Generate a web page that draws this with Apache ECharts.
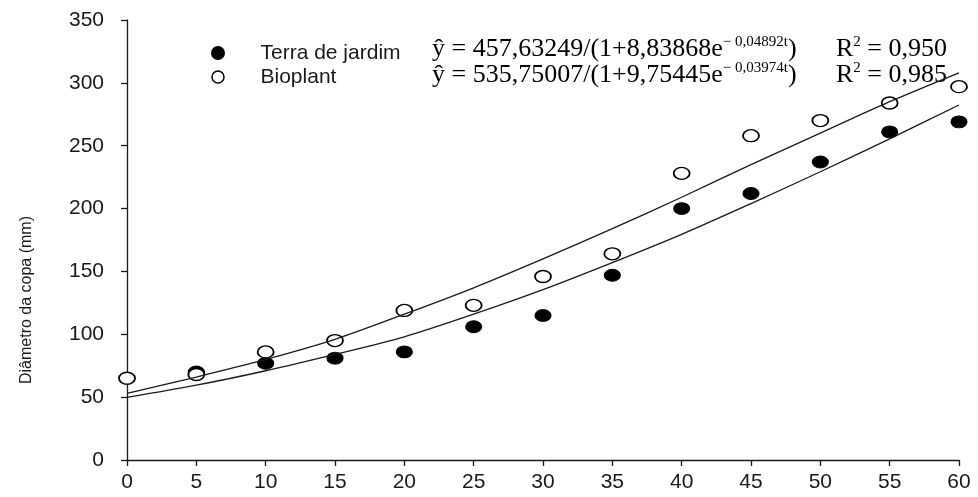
<!DOCTYPE html>
<html>
<head>
<meta charset="utf-8">
<script src="https://cdn.jsdelivr.net/npm/echarts@6/dist/echarts.min.js"></script>
<style>
  html, body { margin: 0; padding: 0; background: #fff; }
  #chart { width: 978px; height: 497px; }
</style>
</head>
<body>
<div id="chart"></div>
<script>
// ---- data ----
const tBioplant = [0, 5, 10, 15, 20, 25, 30, 35, 40, 45, 50, 55, 60];
const bioplant  = [65, 68, 86, 95, 119, 123, 146, 164, 228, 258, 270, 284, 297];

const tTerra = [5, 10, 15, 20, 25, 30, 35, 40, 45, 50, 55, 60];
const terra  = [70, 77, 81, 86, 106, 115, 147, 200, 212, 237, 261, 269];

// fitted curves as drawn in the picture
const tCurve     = [0, 5, 10, 15, 20, 25, 30, 35, 40, 45, 50, 55, 60];
const curveUpper = [53, 66, 80, 96, 116, 137, 160, 184, 209, 235, 260, 285, 308];
const curveLower = [49.8, 59.5, 71, 84, 98, 116, 135.5, 157, 179.5, 204, 229.3, 255.5, 282.4];

const yTitle = 'Diâmetro da copa (mm)';
const seriesNames = ['Terra de jardim', 'Bioplant'];
const eqTerra = ['ŷ = 457,63249/(1+8,83868e', '− 0,04892t', ')'];
const eqBio   = ['ŷ = 535,75007/(1+9,75445e', '− 0,03974t', ')'];
const r2Terra = '0,950';
const r2Bio   = '0,985';

const pair = (xs, ys) => xs.map((x, i) => [x, ys[i]]);

const chart = echarts.init(document.getElementById('chart'));
const ink = '#1a1a1a';
const sans = 'Liberation Sans, Arial, sans-serif';
const serif = 'Liberation Serif, Times New Roman, serif';

const eqRich = {
  m: { fontFamily: serif, fontSize: 26, color: '#000', lineHeight: 28, verticalAlign: 'middle' },
  s: { fontFamily: serif, fontSize: 15, color: '#000', lineHeight: 28, verticalAlign: 'top' }
};

chart.setOption({
  animation: false,
  backgroundColor: '#fff',
  grid: { left: 127, right: 19, top: 20, bottom: 37, containLabel: false },
  xAxis: {
    type: 'value', min: 0, max: 60, interval: 5,
    axisLine: { show: true, lineStyle: { color: ink, width: 1.3 } },
    axisTick: { show: true, inside: false, length: 6, lineStyle: { color: ink, width: 1.3 } },
    axisLabel: { margin: 12, fontFamily: sans, fontSize: 21, color: ink },
    splitLine: { show: false }
  },
  yAxis: {
    type: 'value', min: 0, max: 350, interval: 50,
    axisLine: { show: true, lineStyle: { color: ink, width: 1.3 } },
    axisTick: { show: true, inside: false, length: 6, lineStyle: { color: ink, width: 1.3 } },
    axisLabel: { margin: 23, fontFamily: sans, fontSize: 21, color: ink },
    splitLine: { show: false }
  },
  legend: {
    orient: 'vertical', left: 206, top: 37,
    icon: 'circle', itemWidth: 13, itemHeight: 12, itemGap: 2,
    textStyle: { fontFamily: sans, fontSize: 21, color: ink, lineHeight: 22, padding: [0, 0, 0, 31] },
    data: [
      { name: seriesNames[0], itemStyle: { color: '#000', opacity: 1 } },
      { name: seriesNames[1], itemStyle: { color: '#fff', borderColor: '#000', borderWidth: 1.5, opacity: 1 } }
    ]
  },
  graphic: [
    {
      type: 'text', rotation: Math.PI / 2, x: 27, y: 300,
      style: { text: yTitle, fontFamily: sans, fontSize: 16, fill: ink, align: 'center', verticalAlign: 'middle' }
    },
    {
      type: 'text', x: 432, y: 49,
      style: { text: '{m|' + eqTerra[0] + '}{s|' + eqTerra[1] + '}{m|' + eqTerra[2] + '}', rich: eqRich, align: 'left', verticalAlign: 'middle' }
    },
    {
      type: 'text', x: 432, y: 75,
      style: { text: '{m|' + eqBio[0] + '}{s|' + eqBio[1] + '}{m|' + eqBio[2] + '}', rich: eqRich, align: 'left', verticalAlign: 'middle' }
    },
    {
      type: 'text', x: 947, y: 49,
      style: { text: '{m|R}{s|2}{m| = ' + r2Terra + '}', rich: eqRich, align: 'right', verticalAlign: 'middle' }
    },
    {
      type: 'text', x: 947, y: 75,
      style: { text: '{m|R}{s|2}{m| = ' + r2Bio + '}', rich: eqRich, align: 'right', verticalAlign: 'middle' }
    }
  ],
  series: [
    {
      name: seriesNames[0], type: 'scatter', symbol: 'circle', symbolSize: [16, 12],
      itemStyle: { color: '#000', borderColor: '#000', borderWidth: 1, opacity: 1 },
      data: pair(tTerra, terra), z: 3
    },
    {
      name: seriesNames[1], type: 'scatter', symbol: 'circle', symbolSize: [16, 12],
      itemStyle: { color: '#fff', borderColor: '#000', borderWidth: 1.6, opacity: 1 },
      data: pair(tBioplant, bioplant), z: 4
    },
    {
      name: 'Ajuste superior', type: 'line', smooth: 0.3, showSymbol: false, silent: true,
      lineStyle: { color: ink, width: 1.3 }, data: pair(tCurve, curveUpper), z: 5
    },
    {
      name: 'Ajuste inferior', type: 'line', smooth: 0.3, showSymbol: false, silent: true,
      lineStyle: { color: ink, width: 1.3 }, data: pair(tCurve, curveLower), z: 5
    }
  ]
});
</script>
</body>
</html>
